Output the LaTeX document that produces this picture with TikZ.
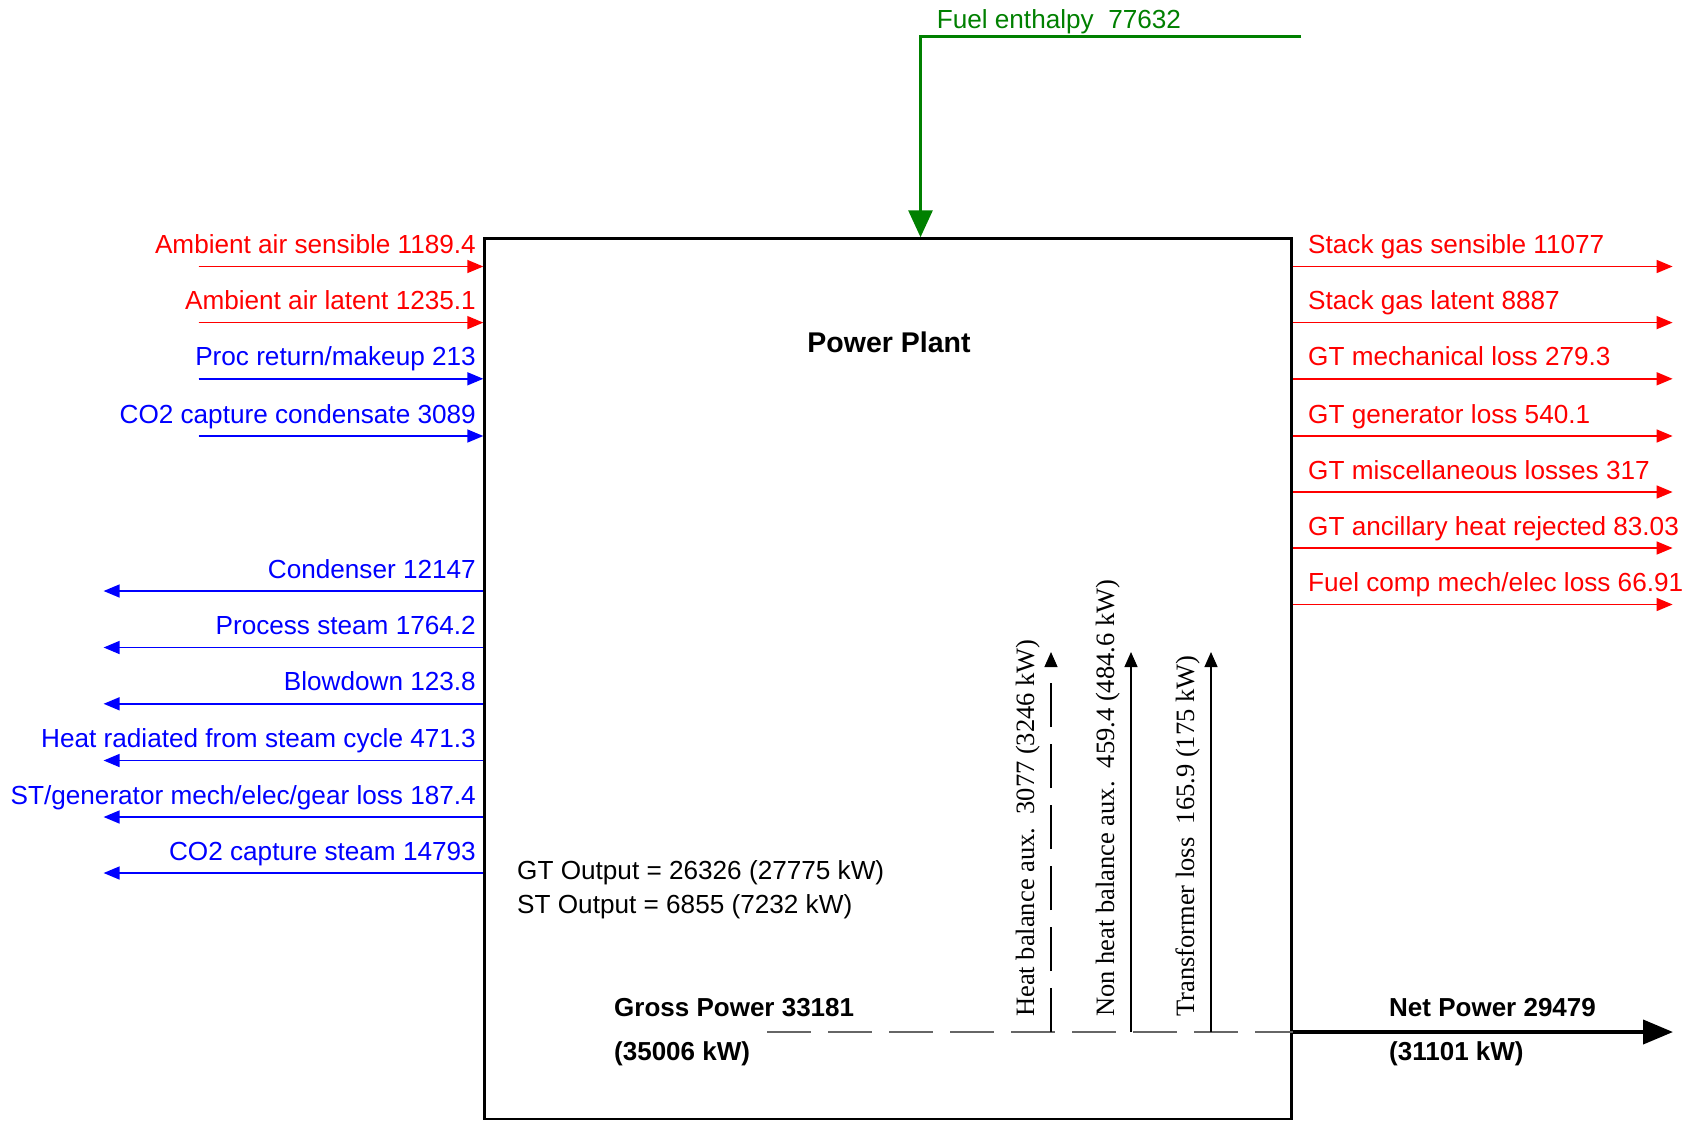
\documentclass[tikz,border=0pt]{standalone}
\usepackage{fontspec}
\setmainfont{Liberation Sans}
\newfontfamily\serifrm{Liberation Serif}
\usetikzlibrary{arrows.meta}
\definecolor{fgreen}{RGB}{0,128,0}
\definecolor{fred}{RGB}{255,0,0}
\definecolor{fblue}{RGB}{0,0,255}
\tikzset{
  lbl/.style={font=\fontsize{26.15}{31}\selectfont, inner sep=0pt},
  blbl/.style={font=\fontsize{26}{31}\selectfont\bfseries, inner sep=0pt},
  vlbl/.style={font=\fontsize{26.5}{31}\selectfont\serifrm, inner sep=0pt, rotate=90, anchor=base west},
  flow/.style={line width=1.5pt, -{Triangle[length=16pt,width=13pt]}},
  inred/.style={flow, draw=fred, fill=fred},
  inblue/.style={flow, draw=fblue, fill=fblue},
  outred/.style={flow, draw=fred, fill=fred},
  outblue/.style={flow, draw=fblue, fill=fblue},
  vflow/.style={line width=1.2pt, draw=black, -{Triangle[length=15pt,width=13pt]}},
  gdash/.style={line width=1.5pt, draw=black!60, dash pattern=on 44pt off 17pt},
  netarrow/.style={line width=4pt, draw=black, -{Triangle[length=30pt,width=24pt]}},
  fuelarrow/.style={line width=3pt, draw=fgreen, -{Triangle[length=27pt,width=24pt]}},
}
\begin{document}
\begin{tikzpicture}[x=1pt,y=-1pt]
\useasboundingbox (0,0) rectangle (1692,1120);

% main box
\node[draw, line width=2.5pt, minimum width=807pt, minimum height=880.5pt, inner sep=0pt] (plant) at (888.05,678.75) {};
\node[blbl, font=\fontsize{28.5}{33}\selectfont\bfseries, anchor=base] (title) at (889,352) {Power Plant};

% fuel
\coordinate (fuelA) at (1301,36.7);
\coordinate (fuelB) at (920.5,36.7);
\draw[fuelarrow] (fuelA) -- (fuelB) -- (fuelB |- plant.north);
\node[lbl, text=fgreen, anchor=base west] (tfuel) at (936.6,28) {Fuel enthalpy\ \ 77632};

% left inputs
\coordinate (ia1) at (198.5,266.5);
\coordinate (ia2) at (198.5,322.6);
\coordinate (ia3) at (198.5,378.8);
\coordinate (ia4) at (198.5,436);
\draw[inred] (ia1) -- (ia1 -| plant.west);
\draw[inred] (ia2) -- (ia2 -| plant.west);
\draw[inblue] (ia3) -- (ia3 -| plant.west);
\draw[inblue] (ia4) -- (ia4 -| plant.west);
\node[lbl, text=fred, anchor=base east] (tia1) at (476,253.5) {Ambient air sensible 1189.4};
\node[lbl, text=fred, anchor=base east] (tia2) at (476,309.6) {Ambient air latent 1235.1};
\node[lbl, text=fblue, anchor=base east] (tia3) at (476,365.8) {Proc return/makeup 213};
\node[lbl, text=fblue, anchor=base east] (tia4) at (476,423) {CO2 capture condensate 3089};

% left outputs
\coordinate (oa1) at (103.6,591);
\coordinate (oa2) at (103.6,647.5);
\coordinate (oa3) at (103.6,703.8);
\coordinate (oa4) at (103.6,760.5);
\coordinate (oa5) at (103.6,817);
\coordinate (oa6) at (103.6,873);
\draw[outblue] (oa1 -| plant.west) -- (oa1);
\draw[outblue] (oa2 -| plant.west) -- (oa2);
\draw[outblue] (oa3 -| plant.west) -- (oa3);
\draw[outblue] (oa4 -| plant.west) -- (oa4);
\draw[outblue] (oa5 -| plant.west) -- (oa5);
\draw[outblue] (oa6 -| plant.west) -- (oa6);
\node[lbl, text=fblue, anchor=base east] (toa1) at (476,578) {Condenser 12147};
\node[lbl, text=fblue, anchor=base east] (toa2) at (476,634.5) {Process steam 1764.2};
\node[lbl, text=fblue, anchor=base east] (toa3) at (476,690.8) {Blowdown 123.8};
\node[lbl, text=fblue, anchor=base east] (toa4) at (476,747.5) {Heat radiated from steam cycle 471.3};
\node[lbl, text=fblue, anchor=base east] (toa5) at (476,804) {ST/generator mech/elec/gear loss 187.4};
\node[lbl, text=fblue, anchor=base east] (toa6) at (476,860) {CO2 capture steam 14793};

% right outputs
\coordinate (ob1) at (1672.6,266.5);
\coordinate (ob2) at (1672.6,322.6);
\coordinate (ob3) at (1672.6,378.8);
\coordinate (ob4) at (1672.6,436);
\coordinate (ob5) at (1672.6,492);
\coordinate (ob6) at (1672.6,548);
\coordinate (ob7) at (1672.6,604.5);
\draw[outred] (ob1 -| plant.east) -- (ob1);
\draw[outred] (ob2 -| plant.east) -- (ob2);
\draw[outred] (ob3 -| plant.east) -- (ob3);
\draw[outred] (ob4 -| plant.east) -- (ob4);
\draw[outred] (ob5 -| plant.east) -- (ob5);
\draw[outred] (ob6 -| plant.east) -- (ob6);
\draw[outred] (ob7 -| plant.east) -- (ob7);
\node[lbl, text=fred, anchor=base west] (tob1) at (1308,253.5) {Stack gas sensible 11077};
\node[lbl, text=fred, anchor=base west] (tob2) at (1308,309.6) {Stack gas latent 8887};
\node[lbl, text=fred, anchor=base west] (tob3) at (1308,365.8) {GT mechanical loss 279.3};
\node[lbl, text=fred, anchor=base west] (tob4) at (1308,423) {GT generator loss 540.1};
\node[lbl, text=fred, anchor=base west] (tob5) at (1308,479) {GT miscellaneous losses 317};
\node[lbl, text=fred, anchor=base west] (tob6) at (1308,535) {GT ancillary heat rejected 83.03};
\node[lbl, text=fred, anchor=base west] (tob7) at (1308,591.5) {Fuel comp mech/elec loss 66.91};

% outputs text
\node[lbl, anchor=base west] (tgt) at (517,879) {GT Output = 26326 (27775 kW)};
\node[lbl, anchor=base west] (tst) at (517,913) {ST Output = 6855 (7232 kW)};

% gross / net power
\coordinate (gl) at (767,1032);
\draw[gdash] (gl) -- (gl -| plant.east);
\coordinate (np) at (1673,1032);
\draw[netarrow] (np -| plant.east) -- (np);
\node[blbl, anchor=base west] (tgross) at (614,1016) {Gross Power 33181};
\node[blbl, anchor=base west] (tgross2) at (614,1060) {(35006 kW)};
\node[blbl, anchor=base west] (tnet) at (1389,1016) {Net Power 29479};
\node[blbl, anchor=base west] (tnet2) at (1389,1060) {(31101 kW)};

% auxiliary arrows
\coordinate (va1) at (1051,652);
\coordinate (va2) at (1131,652);
\coordinate (va3) at (1211,652);
\draw[vflow, dash pattern=on 44pt off 17pt] (va1 |- gl) -- (va1);
\draw[vflow] (va2 |- gl) -- (va2);
\draw[vflow] (va3 |- gl) -- (va3);
\node[vlbl] (tva1) at (1034,1017) {Heat balance aux.\ \ 3077 (3246 kW)};
\node[vlbl] (tva2) at (1114,1017) {Non heat balance aux.\ \ 459.4 (484.6 kW)};
\node[vlbl] (tva3) at (1194,1017) {Transformer loss\ \ 165.9 (175 kW)};
\end{tikzpicture}
\end{document}
